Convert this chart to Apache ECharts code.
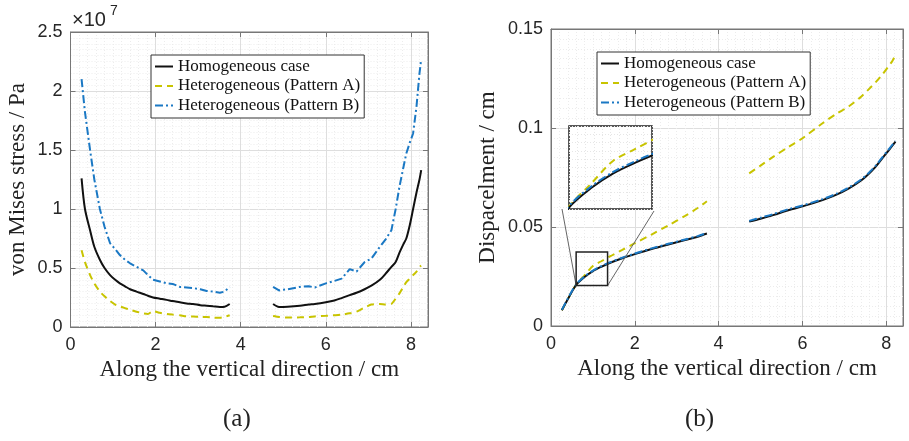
<!DOCTYPE html>
<html>
<head>
<meta charset="utf-8">
<script src="https://cdn.jsdelivr.net/npm/echarts@6/dist/echarts.min.js"></script>
<style>html,body{margin:0;padding:0;background:#fff}#c{width:909px;height:441px}</style>
</head>
<body>
<div id="c"></div>
<script>
// ---------- DATA ----------
const seriesNames = ['Homogeneous case', 'Heterogeneous (Pattern A)', 'Heterogeneous (Pattern B)'];

// (a) von Mises stress, values in units of 10^7 Pa
const stressX1 = [0.26,0.34,0.46,0.56,0.69,0.8,0.93,1.05,1.16,1.28,1.4,1.55,1.71,1.82,1.94,2.1,2.26,2.4,2.57,2.73,2.88,3.05,3.2,3.35,3.51,3.62,3.74];
const stressHomo1 = [1.26,1.0,0.82,0.68,0.57,0.50,0.44,0.40,0.37,0.345,0.32,0.30,0.28,0.265,0.25,0.24,0.23,0.22,0.21,0.20,0.195,0.185,0.18,0.175,0.17,0.172,0.195];
const stressA1 = [0.65,0.55,0.44,0.37,0.30,0.26,0.22,0.19,0.175,0.16,0.145,0.13,0.115,0.11,0.135,0.12,0.11,0.105,0.10,0.09,0.09,0.085,0.085,0.08,0.078,0.085,0.10];
const stressB1 = [2.10,1.82,1.50,1.25,1.0,0.85,0.71,0.66,0.61,0.57,0.54,0.51,0.48,0.44,0.40,0.385,0.37,0.365,0.34,0.335,0.33,0.32,0.305,0.30,0.29,0.30,0.34];
const stressX2 = [4.76,4.9,5.1,5.39,5.6,5.74,6.0,6.2,6.37,6.56,6.72,6.91,7.07,7.27,7.4,7.54,7.64,7.73,7.82,7.89,7.97,8.05,8.13,8.2,8.24];
const stressHomo2 = [0.195,0.17,0.172,0.18,0.19,0.195,0.21,0.225,0.245,0.27,0.29,0.32,0.35,0.40,0.45,0.51,0.55,0.63,0.70,0.75,0.86,1.0,1.14,1.25,1.33];
const stressA2 = [0.093,0.085,0.08,0.082,0.085,0.09,0.095,0.10,0.105,0.116,0.13,0.165,0.19,0.195,0.19,0.195,0.24,0.285,0.34,0.38,0.41,0.44,0.47,0.51,0.52];
const stressB2 = [0.34,0.31,0.32,0.34,0.345,0.335,0.37,0.39,0.41,0.49,0.47,0.55,0.58,0.68,0.74,0.82,1.0,1.19,1.35,1.47,1.56,1.64,1.87,2.15,2.27];

// (b) displacement, cm
const dispX1 = [0.26,0.4,0.6,0.8,1.0,1.2,1.4,1.7,2.0,2.4,2.8,3.2,3.5,3.72];
const dispHomo1 = [0.008,0.0135,0.0207,0.0247,0.0277,0.0299,0.0318,0.0342,0.0363,0.0389,0.0412,0.0434,0.0451,0.0467];
const dispA1 = [0.008,0.0135,0.0209,0.0256,0.0303,0.0327,0.0351,0.0384,0.0418,0.0462,0.0508,0.0556,0.0596,0.0630];
const dispB1 = [0.0082,0.0138,0.0210,0.0250,0.0280,0.0302,0.0321,0.0345,0.0366,0.0392,0.0415,0.0437,0.0454,0.0470];
const dispX2 = [4.73,5.0,5.3,5.68,6.0,6.48,6.8,7.11,7.4,7.58,7.75,7.9,8.05,8.15,8.22];
const dispHomo2 = [0.0527,0.0542,0.0560,0.0586,0.0604,0.0636,0.0662,0.0695,0.0735,0.0768,0.0805,0.0845,0.0885,0.0912,0.0931];
const dispA2 = [0.0771,0.0810,0.0854,0.0906,0.0948,0.1024,0.1070,0.1110,0.1158,0.1195,0.1232,0.1268,0.1310,0.1340,0.1369];
const dispB2 = [0.0531,0.0547,0.0565,0.0591,0.0609,0.0641,0.0667,0.0700,0.0740,0.0773,0.0810,0.0850,0.0890,0.0916,0.0935];

// zoomed region of (b)
const insetX = [0.6, 1.35];
const insetY = [0.0204, 0.0374];

// axis ticks
const stressTicks = {min: 0, max: 2.5, interval: 0.5};
const dispTicks = {min: 0, max: 0.15, interval: 0.05};
const xTicks = {min: 0, max: 8.4, interval: 2};

// ---------- STYLES ----------
const SERIF = "'Liberation Serif','Times New Roman',serif";
const SANS = "'Liberation Sans',Arial,Helvetica,sans-serif";
const colors = ['#111111', '#c8c400', '#1a78c4'];
const lineTypes = ['solid', [7, 5], [8, 3, 2, 3]];

function pairs(xs, ys) { return xs.map((x, i) => [x, ys[i]]); }

function mainX(gridIndex, name) {
  return [
    {gridIndex, type: 'value', min: xTicks.min, max: xTicks.max, interval: xTicks.interval,
     position: 'bottom', name, nameLocation: 'middle', nameGap: 31,
     nameTextStyle: {fontFamily: SERIF, fontSize: 23, color: '#222'},
     axisLine: {show: true, onZero: false, lineStyle: {color: '#777', width: 1}},
     axisTick: {show: true, inside: true, length: 5, lineStyle: {color: '#777'}},
     axisLabel: {fontFamily: SANS, fontSize: 18, color: '#262626', margin: 9, showMaxLabel: false},
     splitLine: {show: true, lineStyle: {color: '#dedede', width: 1}},
     minorTick: {show: false, splitNumber: 10},
     minorSplitLine: {show: true, lineStyle: {color: '#ececec', width: 1, type: [1, 2]}}},
    {gridIndex, type: 'value', min: xTicks.min, max: xTicks.max, interval: xTicks.interval,
     position: 'top',
     axisLine: {show: true, onZero: false, lineStyle: {color: '#777', width: 1}},
     axisTick: {show: true, inside: true, length: 5, lineStyle: {color: '#777'}},
     axisLabel: {show: false}, splitLine: {show: false}}
  ];
}
function mainY(gridIndex, ticks, name, gap) {
  return [
    {gridIndex, type: 'value', min: ticks.min, max: ticks.max, interval: ticks.interval,
     position: 'left', name, nameLocation: 'middle', nameGap: gap,
     nameTextStyle: {fontFamily: SERIF, fontSize: 23, color: '#222'},
     axisLine: {show: true, onZero: false, lineStyle: {color: '#777', width: 1}},
     axisTick: {show: true, inside: true, length: 5, lineStyle: {color: '#777'}},
     axisLabel: {fontFamily: SANS, fontSize: 18, color: '#262626', margin: 8},
     splitLine: {show: true, lineStyle: {color: '#dedede', width: 1}},
     minorTick: {show: false, splitNumber: 10},
     minorSplitLine: {show: true, lineStyle: {color: '#ececec', width: 1, type: [1, 2]}}},
    {gridIndex, type: 'value', min: ticks.min, max: ticks.max, interval: ticks.interval,
     position: 'right',
     axisLine: {show: true, onZero: false, lineStyle: {color: '#777', width: 1}},
     axisTick: {show: true, inside: true, length: 5, lineStyle: {color: '#777'}},
     axisLabel: {show: false}, splitLine: {show: false}}
  ];
}

function line(k, data, xi, yi, smooth, z) {
  return {
    name: seriesNames[k], type: 'line', data, xAxisIndex: xi, yAxisIndex: yi,
    symbol: 'none', smooth: smooth, z: z || 2,
    lineStyle: {color: colors[k], width: 2, type: lineTypes[k]},
    itemStyle: {color: colors[k]}
  };
}

const legendBase = {
  data: seriesNames, orient: 'vertical', padding: [3, 4, 4, 3],
  itemWidth: 18, itemHeight: 14, itemGap: 2.5, selectedMode: false,
  itemStyle: {opacity: 0},
  backgroundColor: '#fff', borderColor: '#333', borderWidth: 1,
  textStyle: {fontFamily: SERIF, fontSize: 17, color: '#111'}, z: 20
};

const series = [
  // (a)
  line(0, pairs(stressX1, stressHomo1), 0, 0, 0.3),
  line(0, pairs(stressX2, stressHomo2), 0, 0, 0.3),
  line(1, pairs(stressX1, stressA1), 0, 0, 0.2),
  line(1, pairs(stressX2, stressA2), 0, 0, 0.2),
  line(2, pairs(stressX1, stressB1), 0, 0, false),
  line(2, pairs(stressX2, stressB2), 0, 0, false),
  // (b)
  line(1, pairs(dispX1, dispA1), 2, 2, 0.3),
  line(1, pairs(dispX2, dispA2), 2, 2, 0.3),
  Object.assign(line(0, pairs(dispX1, dispHomo1), 2, 2, 0.3), {
    markArea: {silent: true, z: 5,
      itemStyle: {color: 'rgba(0,0,0,0)', borderColor: '#222', borderWidth: 1.5},
      data: [[{coord: [insetX[0], insetY[0]]}, {coord: [insetX[1], insetY[1]]}]]}
  }),
  line(0, pairs(dispX2, dispHomo2), 2, 2, 0.3),
  line(2, pairs(dispX1, dispB1), 2, 2, 0.3),
  line(2, pairs(dispX2, dispB2), 2, 2, 0.3),
  // inset
  line(1, pairs(dispX1, dispA1), 4, 4, 0.3, 8),
  line(0, pairs(dispX1, dispHomo1), 4, 4, 0.3, 8),
  line(2, pairs(dispX1, dispB1), 4, 4, 0.3, 8)
];

const option = {
  animation: false,
  backgroundColor: '#fff',
  grid: [
    {left: 70.5, top: 32, width: 357.5, height: 295, show: true, borderColor: '#777', borderWidth: 1, backgroundColor: '#fff'},
    {left: 551, top: 29, width: 352, height: 297, show: true, borderColor: '#777', borderWidth: 1, backgroundColor: '#fff'},
    {left: 569, top: 126, width: 83, height: 83, show: true, borderColor: '#222', borderWidth: 1.5, backgroundColor: '#fff', z: 6}
  ],
  xAxis: [
    ...mainX(0, 'Along the vertical direction / cm'),
    ...mainX(1, 'Along the vertical direction / cm'),
    {gridIndex: 2, type: 'value', min: insetX[0], max: insetX[1], interval: 0.075, z: 7,
     axisLine: {show: false}, axisTick: {show: false}, axisLabel: {show: false},
     splitLine: {show: true, lineStyle: {color: '#e6e6e6', type: [1, 2]}}}
  ],
  yAxis: [
    ...mainY(0, stressTicks, 'von Mises stress / Pa', 41),
    ...mainY(1, dispTicks, 'Dispacelment / cm', 52),
    {gridIndex: 2, type: 'value', min: insetY[0], max: insetY[1], interval: 0.0017, z: 7,
     axisLine: {show: false}, axisTick: {show: false}, axisLabel: {show: false},
     splitLine: {show: true, lineStyle: {color: '#e6e6e6', type: [1, 2]}}}
  ],
  legend: [
    Object.assign({}, legendBase, {left: 151, top: 55}),
    Object.assign({}, legendBase, {left: 597, top: 52})
  ],
  series,
  graphic: [
    {type: 'text', left: 72, top: 10, style: {text: '×10', font: "20px " + SANS, fill: '#262626'}},
    {type: 'text', left: 110, top: 4, style: {text: '7', font: "14px " + SANS, fill: '#262626'}},
    {type: 'text', left: 223, top: 407, style: {text: '(a)', font: "25px " + SERIF, fill: '#222'}},
    {type: 'text', left: 685, top: 407, style: {text: '(b)', font: "25px " + SERIF, fill: '#222'}}
  ]
};

const chart = echarts.init(document.getElementById('c'), null, {renderer: 'canvas'});
chart.setOption(option);

// connector lines from the zoomed region to the inset
const srcBL = chart.convertToPixel({gridIndex: 1}, [insetX[0], insetY[0]]);
const srcBR = chart.convertToPixel({gridIndex: 1}, [insetX[1], insetY[0]]);
const insBL = chart.convertToPixel({gridIndex: 2}, [insetX[0], insetY[0]]);
const insBR = chart.convertToPixel({gridIndex: 2}, [insetX[1], insetY[0]]);
chart.setOption({
  graphic: option.graphic.concat([
    {type: 'line', z: 4, shape: {x1: insBL[0] - 7, y1: insBL[1], x2: srcBL[0], y2: srcBL[1]}, style: {stroke: '#666', lineWidth: 1}},
    {type: 'line', z: 4, shape: {x1: insBR[0] + 2, y1: insBR[1] + 2, x2: srcBR[0], y2: srcBR[1]}, style: {stroke: '#666', lineWidth: 1}}
  ])
});
</script>
</body>
</html>
